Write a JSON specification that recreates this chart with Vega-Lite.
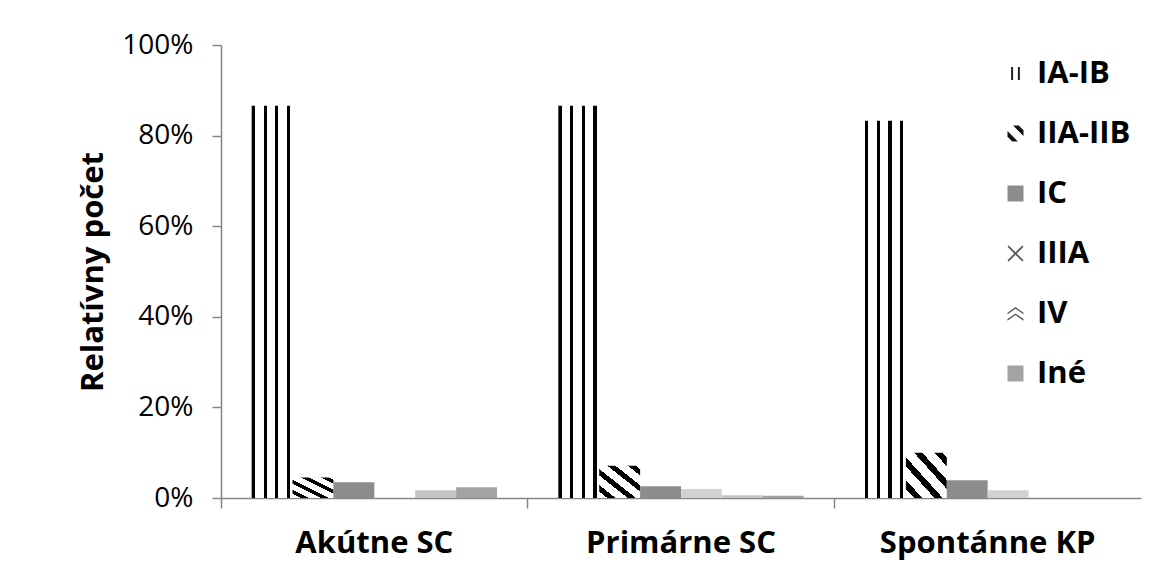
{
  "$schema": "https://vega.github.io/schema/vega-lite/v6.json",
  "autosize": "none",
  "width": 920,
  "height": 453,
  "padding": {"left": 221, "top": 45, "right": 27, "bottom": 67},
  "background": "white",
  "config": {
    "view": {"stroke": null},
    "font": "Open Sans",
    "axis": {"domainColor": "#868686", "tickColor": "#868686", "labelColor": "black", "titleColor": "black", "grid": false}
  },
  "data": {"values": [
    {"g": "Akútne SC", "s": "IA-IB", "v": 0.866},
    {"g": "Akútne SC", "s": "IIA-IIB", "v": 0.045},
    {"g": "Akútne SC", "s": "IC", "v": 0.035},
    {"g": "Akútne SC", "s": "IIIA", "v": 0.0},
    {"g": "Akútne SC", "s": "IV", "v": 0.017},
    {"g": "Akútne SC", "s": "Iné", "v": 0.024},
    {"g": "Primárne SC", "s": "IA-IB", "v": 0.866},
    {"g": "Primárne SC", "s": "IIA-IIB", "v": 0.071},
    {"g": "Primárne SC", "s": "IC", "v": 0.026},
    {"g": "Primárne SC", "s": "IIIA", "v": 0.02},
    {"g": "Primárne SC", "s": "IV", "v": 0.006},
    {"g": "Primárne SC", "s": "Iné", "v": 0.005},
    {"g": "Spontánne KP", "s": "IA-IB", "v": 0.833},
    {"g": "Spontánne KP", "s": "IIA-IIB", "v": 0.10},
    {"g": "Spontánne KP", "s": "IC", "v": 0.039},
    {"g": "Spontánne KP", "s": "IIIA", "v": 0.017},
    {"g": "Spontánne KP", "s": "IV", "v": 0.0},
    {"g": "Spontánne KP", "s": "Iné", "v": 0.0}
  ]},
  "encoding": {
    "x": {
      "field": "g", "type": "nominal", "sort": null,
      "scale": {"paddingInner": 0.2, "paddingOuter": 0.1},
      "axis": {"title": null, "labelAngle": 0, "labelFontSize": 31, "labelFontWeight": "bold", "labelLimit": 400, "tickSize": 10, "labelPadding": 20, "bandPosition": -0.125, "domainWidth": 1.5, "tickWidth": 1.5}
    },
    "xOffset": {"field": "s", "type": "nominal", "sort": ["IA-IB", "IIA-IIB", "IC", "IIIA", "IV", "Iné"], "scale": {"paddingInner": 0, "paddingOuter": 0}},
    "y": {
      "field": "v", "type": "quantitative",
      "scale": {"domain": [0, 1], "nice": false},
      "axis": {"values": [0, 0.2, 0.4, 0.6, 0.8, 1], "format": ".0%", "title": "Relatívny počet", "titleFontSize": 31, "titleFontWeight": "bold", "titlePadding": 12, "labelFontSize": 28, "tickSize": 9, "labelPadding": 19, "domainWidth": 1.5, "tickWidth": 1.5}
    }
  },
  "layer": [
    {
      "mark": {"type": "point", "filled": true, "size": 0, "opacity": 1, "strokeWidth": 0},
      "encoding": {
        "y": {"datum": 0},
        "fill": {
          "field": "s", "type": "nominal", "sort": ["IA-IB", "IIA-IIB", "IC", "IIIA", "IV", "Iné"],
          "scale": {"domain": ["IA-IB", "IIA-IIB", "IC", "IIIA", "IV", "Iné"], "range": ["#222222", "#111111", "#8c8c8c", "#555555", "#555555", "#a3a3a3"]},
          "legend": {"title": null, "orient": "none", "legendX": 779, "legendY": 13, "symbolSize": 256, "symbolStrokeWidth": 0, "symbolOpacity": 1, "labelFontSize": 31, "labelFontWeight": "bold", "labelColor": "black", "rowPadding": 28, "labelOffset": 6, "labelLimit": 300}
        },
        "shape": {
          "field": "s", "type": "nominal", "sort": ["IA-IB", "IIA-IIB", "IC", "IIIA", "IV", "Iné"],
          "scale": {"domain": ["IA-IB", "IIA-IIB", "IC", "IIIA", "IV", "Iné"], "range": [
            "M-0.55,-0.8H-0.3V0.8H-0.55Z M0.3,-0.8H0.55V0.8H0.3Z",
            "M-0.3,-1L0.4,-1L1,-0.4L1,0.3Z M-1,-0.3L0.3,1L-0.4,1L-1,0.4Z",
            "M-1,-1H1V1H-1Z",
            "M-1,-0.85L-0.85,-1L1,0.85L0.85,1Z M0.85,-1L1,-0.85L-0.85,1L-1,0.85Z",
            "M-1,-0.1L0,-0.8L1,-0.1L1,0.1L0,-0.6L-1,0.1Z M-1,0.7L0,0L1,0.7L1,0.9L0,0.2L-1,0.9Z",
            "M-1,-1H1V1H-1Z"
          ]}
        }
      }
    },
    {
      "mark": {"type": "bar", "strokeWidth": 0},
      "encoding": {
        "fill": {
          "condition": [
            {"test": "datum.s === 'IA-IB'", "value": {"gradient": "linear", "x1": 0, "y1": 0, "x2": 1, "y2": 0, "stops": [
              {"offset": 0, "color": "black"}, {"offset": 0.08, "color": "black"}, {"offset": 0.08, "color": "white"}, {"offset": 0.29, "color": "white"},
              {"offset": 0.29, "color": "black"}, {"offset": 0.37, "color": "black"}, {"offset": 0.37, "color": "white"}, {"offset": 0.57, "color": "white"},
              {"offset": 0.57, "color": "black"}, {"offset": 0.65, "color": "black"}, {"offset": 0.65, "color": "white"}, {"offset": 0.86, "color": "white"},
              {"offset": 0.86, "color": "black"}, {"offset": 0.94, "color": "black"}, {"offset": 0.94, "color": "white"}, {"offset": 1, "color": "white"}
            ]}},
            {"test": "datum.s === 'IIA-IIB'", "value": {"gradient": "linear", "x1": 0, "y1": 1, "x2": 1, "y2": 0, "stops": [
              {"offset": 0, "color": "white"}, {"offset": 0.1, "color": "white"}, {"offset": 0.1, "color": "black"}, {"offset": 0.2, "color": "black"},
              {"offset": 0.2, "color": "white"}, {"offset": 0.35, "color": "white"}, {"offset": 0.35, "color": "black"}, {"offset": 0.45, "color": "black"},
              {"offset": 0.45, "color": "white"}, {"offset": 0.6, "color": "white"}, {"offset": 0.6, "color": "black"}, {"offset": 0.7, "color": "black"},
              {"offset": 0.7, "color": "white"}, {"offset": 0.85, "color": "white"}, {"offset": 0.85, "color": "black"}, {"offset": 0.95, "color": "black"},
              {"offset": 0.95, "color": "white"}, {"offset": 1, "color": "white"}
            ]}},
            {"test": "datum.s === 'IC'", "value": "#8c8c8c"},
            {"test": "datum.s === 'IIIA'", "value": "#d2d2d2"},
            {"test": "datum.s === 'IV'", "value": "#c4c4c4"}
          ],
          "value": "#a3a3a3"
        }
      }
    }
  ]
}
